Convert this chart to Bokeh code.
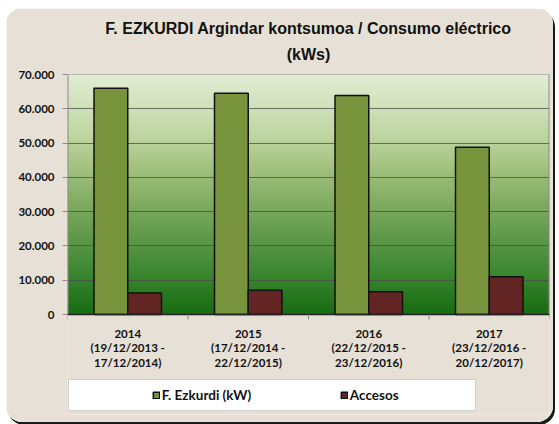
import numpy as np
from bokeh.plotting import figure
from bokeh.models import (FixedTicker, Legend, LegendItem, Range1d, Title,
                          ColumnDataSource)
from bokeh.core.properties import value
from bokeh.embed import file_html
from bokeh.resources import INLINE

# ---- data ----
years = ["2014", "2015", "2016", "2017"]
periods = ["(19/12/2013 -\n17/12/2014)", "(17/12/2014 -\n22/12/2015)",
           "(22/12/2015 -\n23/12/2016)", "(23/12/2016 -\n20/12/2017)"]
ezkurdi = [66000, 64500, 63900, 48800]
accesos = [6300, 7100, 6600, 11000]
y_ticks = [0, 10000, 20000, 30000, 40000, 50000, 60000, 70000]
y_tick_labels = ["0", "10.000", "20.000", "30.000", "40.000", "50.000", "60.000", "70.000"]
series_names = ["F. Ezkurdi (kW)", "Accesos"]

BG = "#e7e0d6"
GREEN = "#77933c"
RED = "#632523"
GRAY = "#8a8a8a"

n = len(years)
ymax = y_ticks[-1]
centers = [i + 0.5 for i in range(n)]
bw = 0.28
# frame extends below the value axis to hold the category labels and legend
ymin = -ymax * 100 / 240

p = figure(width=547, height=414, output_backend="svg", toolbar_location=None,
           x_range=Range1d(0, n), y_range=Range1d(ymin, ymax), x_axis_location=None,
           min_border_left=61, min_border_right=4, min_border_bottom=8, min_border_top=66)
p.styles = {"margin-left": "6px", "margin-top": "8px", "border-radius": "16px",
            "overflow": "hidden", "box-shadow": "2px 3px 0px #1a1a1a"}
p.background_fill_color = BG
p.border_fill_color = BG
p.outline_line_color = None

# titles
p.title.text = "F. EZKURDI Argindar kontsumoa / Consumo eléctrico"
p.title.align = "center"
p.title.text_font = "Liberation Sans"
p.title.text_font_size = "16px"
p.title.text_font_style = "bold"
p.title.text_color = "#111111"
p.title.standoff = -11
t2 = Title(text="(kWs)", align="center", text_font="Liberation Sans",
           text_font_size="16px", text_font_style="bold", text_color="#111111",
           standoff=24, text_line_height=1.35)
p.add_layout(t2, "above")

# gradient plot-area background
stops_y = np.array([0.0, 0.15, 0.3, 0.45, 0.6, 0.75, 1.0])
stops_c = np.array([[24, 108, 18], [55, 132, 45], [90, 150, 70], [125, 170, 95],
                    [160, 192, 125], [192, 214, 162], [226, 238, 214]])
N = 240
t = np.linspace(0, 1, N)
rgb = np.stack([np.interp(t, stops_y, stops_c[:, k]) for k in range(3)], axis=1).astype(np.uint32)
img = np.zeros((N, 1), dtype=np.uint32)
view = img.view(dtype=np.uint8).reshape((N, 1, 4))
view[:, 0, 0] = rgb[:, 0]
view[:, 0, 1] = rgb[:, 1]
view[:, 0, 2] = rgb[:, 2]
view[:, 0, 3] = 255
p.image_rgba(image=[img], x=0, y=0, dw=n, dh=ymax, level="image")

# grid
p.xgrid.visible = False
p.ygrid.ticker = FixedTicker(ticks=y_ticks)
p.ygrid.grid_line_color = "#4a4a4a"
p.ygrid.grid_line_alpha = 0.75
p.ygrid.level = "image"

# plot-area border
p.segment(x0=[0, n], y0=[0, 0], x1=[0, n], y1=[ymax, ymax], line_color=GRAY, line_width=2)
p.segment(x0=[0], y0=[ymax], x1=[n], y1=[ymax], line_color=GRAY, line_width=1.2)

# bars
src = ColumnDataSource(dict(
    xg=[c - bw / 2 for c in centers], xr=[c + bw / 2 for c in centers],
    ezkurdi=ezkurdi, accesos=accesos))
rg = p.vbar(x="xg", top="ezkurdi", width=bw, source=src, fill_color=GREEN,
            line_color="#111111", line_width=1.5)
rr = p.vbar(x="xr", top="accesos", width=bw, source=src, fill_color=RED,
            line_color="#111111", line_width=1.5)
# invisible spacer glyph for legend layout
rs = p.vbar(x="xg", top="ezkurdi", width=bw, source=src, fill_alpha=0, line_alpha=0)

# category axis: baseline, boundary ticks, labels
p.segment(x0=[0], y0=[0], x1=[n], y1=[0], line_color="#222222", line_width=1.5)
p.ray(x=list(range(n + 1)), y=[0] * (n + 1), length=5, length_units="screen",
      angle=-np.pi / 2, line_color=GRAY, line_width=1)
labels = [y + "\n" + per for y, per in zip(years, periods)]
p.text(x=centers, y=[0] * n, text=labels, y_offset=12, text_align="center",
       text_baseline="top", text_font=value("Lato"), text_font_style="bold",
       text_font_size="11.5px", text_color="#111111", text_line_height=1.12)

# y axis
p.yaxis.ticker = FixedTicker(ticks=y_ticks)
p.yaxis.major_label_overrides = {v: l for v, l in zip(y_ticks, y_tick_labels)}
p.yaxis.major_label_text_font = "Lato"
p.yaxis.major_label_text_font_style = "bold"
p.yaxis.major_label_text_font_size = "11.5px"
p.yaxis.major_label_text_color = "#111111"
p.yaxis.axis_line_color = None
p.yaxis.major_tick_line_color = GRAY
p.yaxis.major_tick_out = 5
p.yaxis.major_tick_in = 0
p.yaxis.minor_tick_line_color = None
p.yaxis.major_label_standoff = 8

# legend (spacer items keep the entries where the reference has them)
sp = "\u00a0"
legend = Legend(items=[LegendItem(label=sp * 20, renderers=[rs]),
                       LegendItem(label=series_names[0], renderers=[rg]),
                       LegendItem(label=sp * 24, renderers=[rs]),
                       LegendItem(label=series_names[1], renderers=[rr]),
                       LegendItem(label=sp * 18, renderers=[rs])],
                orientation="horizontal", location=(1, 3), margin=0,
                background_fill_color="white", background_fill_alpha=1,
                border_line_color="#a0a0a0", border_line_width=1,
                glyph_width=8, glyph_height=8, label_standoff=2, spacing=0,
                padding=7, label_height=14,
                label_text_font="Lato", label_text_font_style="bold",
                label_text_font_size="13.5px", label_text_color="#111111")
p.add_layout(legend, "center")

open("out.html", "w").write(file_html(p, INLINE))
